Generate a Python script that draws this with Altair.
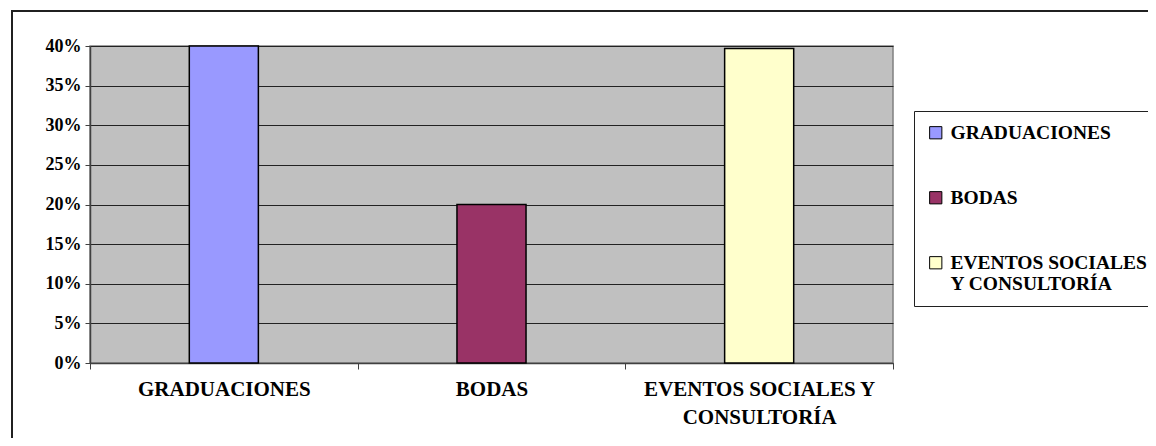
import altair as alt
import pandas as pd

categories = ["GRADUACIONES", "BODAS", "EVENTOS SOCIALES Y CONSULTORÍA"]
values = [0.40, 0.20, 0.397]
colors = ["#9999FF", "#993366", "#FFFFCC"]
y_ticks = [0.0, 0.05, 0.10, 0.15, 0.20, 0.25, 0.30, 0.35, 0.40]

FONT = "Liberation Serif, Times New Roman, serif"

df = pd.DataFrame({"categoria": categories, "valor": values})

x_label_expr = (
    "datum.label == 'EVENTOS SOCIALES Y CONSULTORÍA' ? "
    "['EVENTOS SOCIALES Y', 'CONSULTORÍA'] : datum.label"
)
legend_label_expr = (
    "indexof(datum.label, 'EVENTOS') == 0 ? "
    "['EVENTOS SOCIALES', 'Y CONSULTORÍA'] : datum.label"
)

bars = alt.Chart(df).mark_bar(
    stroke="black", strokeWidth=1.5, width=alt.RelativeBandSize(0.258)
).encode(
    x=alt.X(
        "categoria:N",
        sort=categories,
        scale=alt.Scale(paddingInner=0, paddingOuter=0),
        axis=alt.Axis(
            title=None,
            labelAngle=0,
            tickBand="extent",
            labelExpr=x_label_expr,
            labelFont=FONT,
            labelFontSize=21,
            labelFontWeight="bold",
            labelColor="black",
            labelLineHeight=28,
            labelPadding=9,
            labelBaseline="top",
            labelLimit=400,
            tickSize=6,
            tickColor="#404040",
            domainColor="#404040",
            domainWidth=1.5,
            grid=False,
        ),
    ),
    y=alt.Y(
        "valor:Q",
        scale=alt.Scale(domain=[0, 0.4], nice=False),
        axis=alt.Axis(
            title=None,
            format=".0%",
            values=y_ticks,
            labelFont=FONT,
            labelFontSize=18,
            labelFontWeight="bold",
            labelColor="black",
            labelPadding=4,
            tickSize=5,
            tickColor="#404040",
            domainColor="#404040",
            domainWidth=1.5,
            grid=True,
            gridColor="#222222",
            gridWidth=1,
        ),
    ),
    color=alt.Color(
        "categoria:N",
        sort=categories,
        scale=alt.Scale(domain=categories, range=colors),
        legend=alt.Legend(
            title=None,
            orient="none",
            legendX=824,
            legendY=65,
            padding=12,
            strokeColor="#202020",
            fillColor="white",
            symbolType="square",
            symbolSize=150,
            symbolStrokeColor="black",
            symbolStrokeWidth=1,
            symbolOpacity=1,
            labelExpr=legend_label_expr,
            labelFont=FONT,
            labelFontSize=19.5,
            labelFontWeight="bold",
            labelColor="black",
            labelOffset=5,
            labelLimit=500,
            rowPadding=44,
        ),
    ),
)

frame = alt.Chart(alt.Data(values=[{}])).mark_rule(color="#202020", strokeWidth=2).encode(
    x=alt.value(-78), y=alt.value(-35), y2=alt.value(400)
)
frame_top = alt.Chart(alt.Data(values=[{}])).mark_rule(color="#202020", strokeWidth=2).encode(
    x=alt.value(-79), x2=alt.value(1100), y=alt.value(-35)
)

chart = alt.layer(frame, frame_top, bars).properties(
    width=803,
    height=317,
    autosize=alt.AutoSizeParams(type="none"),
    padding={"left": 82, "top": 38, "right": 255, "bottom": 75},
).configure_view(
    fill="#C0C0C0", stroke="#808080", strokeWidth=1.5
)

chart.save("out.html", embed_options={"renderer": "svg", "actions": False})
